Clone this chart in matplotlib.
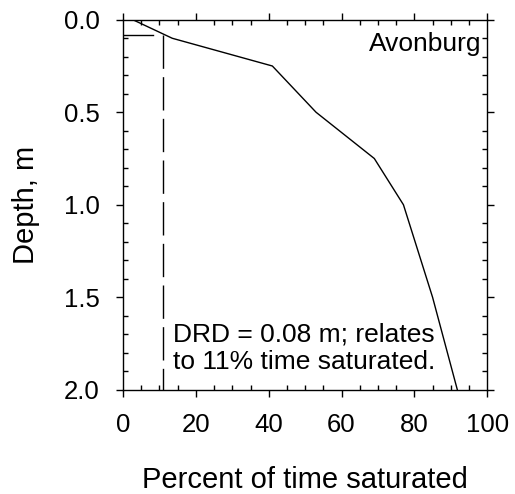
import numpy as np
import matplotlib
matplotlib.use("Agg")
import matplotlib.pyplot as plt
from matplotlib.ticker import MultipleLocator

plt.rcParams['font.family'] = ['Liberation Sans', 'DejaVu Sans']

# saturation profile
pct_saturated = [2.7, 13.5, 41, 53, 69, 77, 85, 91.8]
depth = [0.0, 0.1, 0.25, 0.5, 0.75, 1.0, 1.5, 2.0]

# DRD marker
drd_depth = 0.08
drd_pct = 11
drd_bar_end = 8.2

fig = plt.figure(figsize=(5.15, 4.94), dpi=100)
ax = fig.add_axes([0.239, 0.211, 0.707, 0.749])

ax.plot(pct_saturated, depth, color='black', lw=1.0)
ax.plot([0, drd_bar_end], [drd_depth, drd_depth], color='black', lw=1.0)
ax.plot([drd_pct, drd_pct], [drd_depth, 2.0], color='black', lw=1.0,
        dashes=(24, 6))

ax.set_xlim(0, 100)
ax.set_ylim(2.0, 0.0)
ax.xaxis.set_major_locator(MultipleLocator(20))
ax.xaxis.set_minor_locator(MultipleLocator(5))
ax.yaxis.set_major_locator(MultipleLocator(0.5))
ax.yaxis.set_minor_locator(MultipleLocator(0.1))
ax.yaxis.set_major_formatter(plt.FormatStrFormatter('%.1f'))

ax.tick_params(which='major', direction='out', length=5, width=1,
               top=True, right=True, labelsize=18.5, pad=12)
ax.tick_params(which='minor', direction='in', length=3.6, width=1,
               top=True, right=True)
for s in ax.spines.values():
    s.set_linewidth(1)

ax.text(98.3, 0.13, "Avonburg", ha='right', va='center', fontsize=19)
ax.text(13.8, 1.775, "DRD = 0.08 m; relates\nto 11% time saturated.",
        ha='left', va='center', fontsize=19, linespacing=1.22)

fig.text(305 / 515, 1 - 480 / 494, "Percent of time saturated",
         ha='center', va='center', fontsize=21)
fig.text(26 / 515, 1 - 205 / 494, "Depth, m", rotation=90,
         ha='center', va='center', fontsize=21)

fig.savefig("out.png", dpi=100)
